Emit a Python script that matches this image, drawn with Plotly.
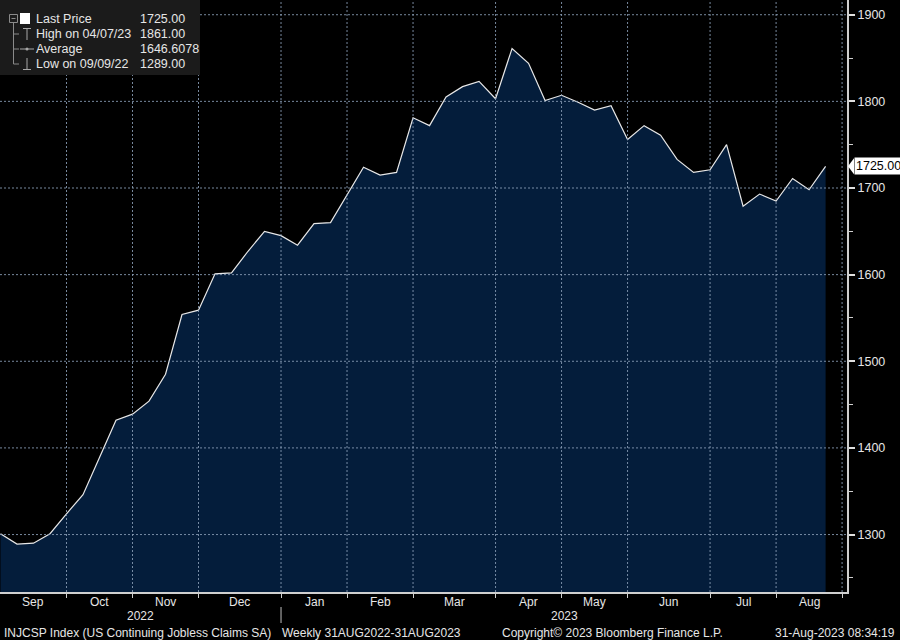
import pandas as pd
import plotly.graph_objects as go

# ---------------- data ----------------
week_start = "2022-09-02"  # first weekly observation (Friday)
claims = [
    1301, 1289, 1290, 1301, 1324, 1346, 1389, 1432, 1439, 1454,
    1485, 1554, 1559, 1601, 1602, 1627, 1650, 1645, 1634, 1659,
    1660, 1692, 1724, 1715, 1718, 1781, 1772, 1805, 1817, 1823,
    1803, 1861, 1844, 1801, 1807, 1799, 1790, 1795, 1756, 1772,
    1761, 1733, 1718, 1721, 1750, 1679, 1693, 1685, 1711, 1698,
    1725,
]
y_ticks = [1300, 1400, 1500, 1600, 1700, 1800, 1900]
y_minor_ticks = [1250, 1350, 1450, 1550, 1650, 1750, 1850]
month_labels = ["Sep", "Oct", "Nov", "Dec", "Jan", "Feb", "Mar", "Apr", "May", "Jun", "Jul", "Aug"]
year_labels = ["2022", "2023"]
legend_labels = ["Last Price", "High on 04/07/23", "Average", "Low on 09/09/22"]
legend_values = ["1725.00", "1861.00", "1646.6078", "1289.00"]
footer_texts = [
    "INJCSP Index (US Continuing Jobless Claims SA)",
    "Weekly 31AUG2022-31AUG2023",
    "Copyright\u00a9 2023 Bloomberg Finance L.P.",
    "31-Aug-2023 08:34:19",
]

# ---------------- derived ----------------
dates = pd.date_range(week_start, periods=len(claims), freq="7D")
axis_weeks = pd.date_range(week_start, periods=len(claims) + 1, freq="7D")
# month boundaries = last weekly slot in each month
bounds = list(pd.Series(axis_weeks).groupby([axis_weeks.year, axis_weeks.month]).max())
x_start = dates[0] - pd.Timedelta(hours=5)
x_end = axis_weeks[-1] + pd.Timedelta(hours=50)
edges = [x_start] + bounds
mids = [edges[i] + (edges[i + 1] - edges[i]) / 2 for i in range(len(bounds))]
year_split = [b for b in bounds if b.month == 12][0]
year_mids = [x_start + (year_split - x_start) / 2, year_split + (x_end - year_split) / 2]

W, H = 847, 592
ML, MR, MT, MB = 0, 900 - 847, 0, 640 - 592
FONT = "Tahoma, 'Liberation Sans', Arial, sans-serif"
TXT = "#e6e6e6"
GRID = "rgba(140,160,185,0.85)"
FILL = "#041d3b"
FS = 12


def px(x):
    return x / W


def py(y):
    return 1 - y / H


fig = go.Figure()
fig.add_trace(go.Scatter(
    x=dates, y=claims, mode="lines",
    line=dict(color="#e8e8e8", width=1.2),
    fill="tozeroy", fillcolor=FILL,
    hoverinfo="skip", showlegend=False,
))

shapes = []
# gridlines (drawn above the fill, like the reference)
for b in bounds:
    shapes.append(dict(type="line", xref="x", yref="paper", x0=b, x1=b, y0=0, y1=1,
                       line=dict(color=GRID, width=1, dash="2px,2px"), layer="above"))
for t in y_ticks:
    shapes.append(dict(type="line", xref="paper", yref="y", x0=0, x1=1, y0=t, y1=t,
                       line=dict(color=GRID, width=1, dash="2px,2px"), layer="above"))
# year separator
shapes.append(dict(type="line", xref="x", yref="paper", x0=year_split, x1=year_split,
                   y0=py(607), y1=py(623), line=dict(color="#bfbfbf", width=1)))

# legend box
shapes.append(dict(type="rect", xref="paper", yref="paper", x0=px(0), x1=px(200), y0=py(75), y1=py(0),
                   fillcolor="#1b1b1b", line=dict(width=0), layer="above"))
TREE = "#8a8a8a"
shapes += [
    dict(type="rect", xref="paper", yref="paper", x0=px(9.5), x1=px(17.5), y0=py(22.5), y1=py(14.5),
         line=dict(color=TREE, width=1), layer="above"),
    dict(type="line", xref="paper", yref="paper", x0=px(11.5), x1=px(15.5), y0=py(18.5), y1=py(18.5),
         line=dict(color=TREE, width=1), layer="above"),
    dict(type="line", xref="paper", yref="paper", x0=px(13.5), x1=px(13.5), y0=py(22.5), y1=py(64),
         line=dict(color=TREE, width=1), layer="above"),
    dict(type="rect", xref="paper", yref="paper", x0=px(20), x1=px(30), y0=py(24), y1=py(13),
         fillcolor="white", line=dict(width=0), layer="above"),
]
for ry in (34, 49, 64):
    shapes.append(dict(type="line", xref="paper", yref="paper", x0=px(13.5), x1=px(19), y0=py(ry), y1=py(ry),
                       line=dict(color=TREE, width=1), layer="above"))
ICON = "#a8a8a8"
shapes += [
    # high marker
    dict(type="line", xref="paper", yref="paper", x0=px(23), x1=px(31), y0=py(28.5), y1=py(28.5),
         line=dict(color=ICON, width=1), layer="above"),
    dict(type="line", xref="paper", yref="paper", x0=px(27), x1=px(27), y0=py(28.5), y1=py(40),
         line=dict(color=ICON, width=1), layer="above"),
    # average marker
    dict(type="line", xref="paper", yref="paper", x0=px(20), x1=px(34), y0=py(49), y1=py(49),
         line=dict(color=ICON, width=1), layer="above"),
    dict(type="circle", xref="paper", yref="paper", x0=px(25.5), x1=px(28.5), y0=py(50.5), y1=py(47.5),
         fillcolor=ICON, line=dict(width=0), layer="above"),
    # low marker
    dict(type="line", xref="paper", yref="paper", x0=px(27), x1=px(27), y0=py(58), y1=py(69.5),
         line=dict(color=ICON, width=1), layer="above"),
    dict(type="line", xref="paper", yref="paper", x0=px(23), x1=px(31), y0=py(69.5), y1=py(69.5),
         line=dict(color=ICON, width=1), layer="above"),
]
# pointer of the last-price tag (pixel-sized, anchored at the last value on the right axis)
shapes.append(dict(type="path", xref="paper", yref="y", xsizemode="pixel", ysizemode="pixel",
                   xanchor=1, yanchor=claims[-1], path="M 1,0 L 7,8 L 7,-8 Z",
                   fillcolor="white", line=dict(width=0), layer="above"))

ann = []
rows = [19, 34, 49, 64]
for lab, val, ry in zip(legend_labels, legend_values, rows):
    ann.append(dict(text=lab, x=px(34), y=py(ry), xref="paper", yref="paper", xanchor="left", yanchor="middle",
                    showarrow=False, font=dict(family=FONT, size=12.5, color=TXT)))
    ann.append(dict(text=val, x=px(138), y=py(ry), xref="paper", yref="paper", xanchor="left", yanchor="middle",
                    showarrow=False, font=dict(family=FONT, size=12.5, color=TXT)))

# month labels
for lab, xm in zip(month_labels, mids):
    ann.append(dict(text=lab, x=xm, y=0, xref="x", yref="paper", yanchor="middle", yshift=-(601.5 - H),
                    showarrow=False, font=dict(family=FONT, size=FS, color=TXT)))
# year labels
for lab, xm in zip(year_labels, year_mids):
    ann.append(dict(text=lab, x=xm, y=0, xref="x", yref="paper", yanchor="middle", yshift=-(615.5 - H),
                    showarrow=False, font=dict(family=FONT, size=FS, color=TXT)))

# footer
footer_x = [2, 280, 500, 897]
for i, (t, fx) in enumerate(zip(footer_texts, footer_x)):
    ann.append(dict(text=t, x=px(fx), y=0, xref="paper", yref="paper", yanchor="middle",
                    xanchor="right" if i == 3 else "left", yshift=-(632.5 - H),
                    showarrow=False, font=dict(family=FONT, size=FS, color=TXT)))

# last price tag
ann.append(dict(text=f"{claims[-1]:.2f}", x=1, y=claims[-1], xref="paper", yref="y", xanchor="left",
                yanchor="middle", xshift=7, showarrow=False, bgcolor="white", borderpad=1,
                font=dict(family=FONT, size=12.5, color="black")))

fig.update_layout(
    width=900, height=640,
    margin=dict(l=ML, r=MR, t=MT, b=MB, pad=0),
    paper_bgcolor="black", plot_bgcolor="black",
    showlegend=False,
    shapes=shapes, annotations=ann,
    xaxis=dict(
        type="date", range=[x_start, x_end],
        tickmode="array", tickvals=bounds, showticklabels=False,
        ticks="outside", ticklen=4, tickcolor="#cfcfcf", tickwidth=1,
        showgrid=False, zeroline=False,
        showline=True, linecolor="#cfcfcf", linewidth=2,
    ),
    yaxis=dict(
        side="right", range=[1233.7, 1917],
        tickmode="array", tickvals=y_ticks, ticktext=[str(t) for t in y_ticks],
        ticks="outside", ticklen=6, tickwidth=2, tickcolor="#e0e0e0",
        showgrid=False, zeroline=False,
        showline=True, linecolor="#cfcfcf", linewidth=2,
        tickfont=dict(family=FONT, size=12.5, color=TXT),
        minor=dict(tickmode="array", tickvals=y_minor_ticks, ticks="outside", ticklen=4,
                   tickcolor="#cfcfcf", tickwidth=1, showgrid=False),
    ),
)

fig.write_html(
    "out.html",
    config={"displayModeBar": False},
    post_script="document.body.style.margin='0';document.body.style.background='black';",
)
